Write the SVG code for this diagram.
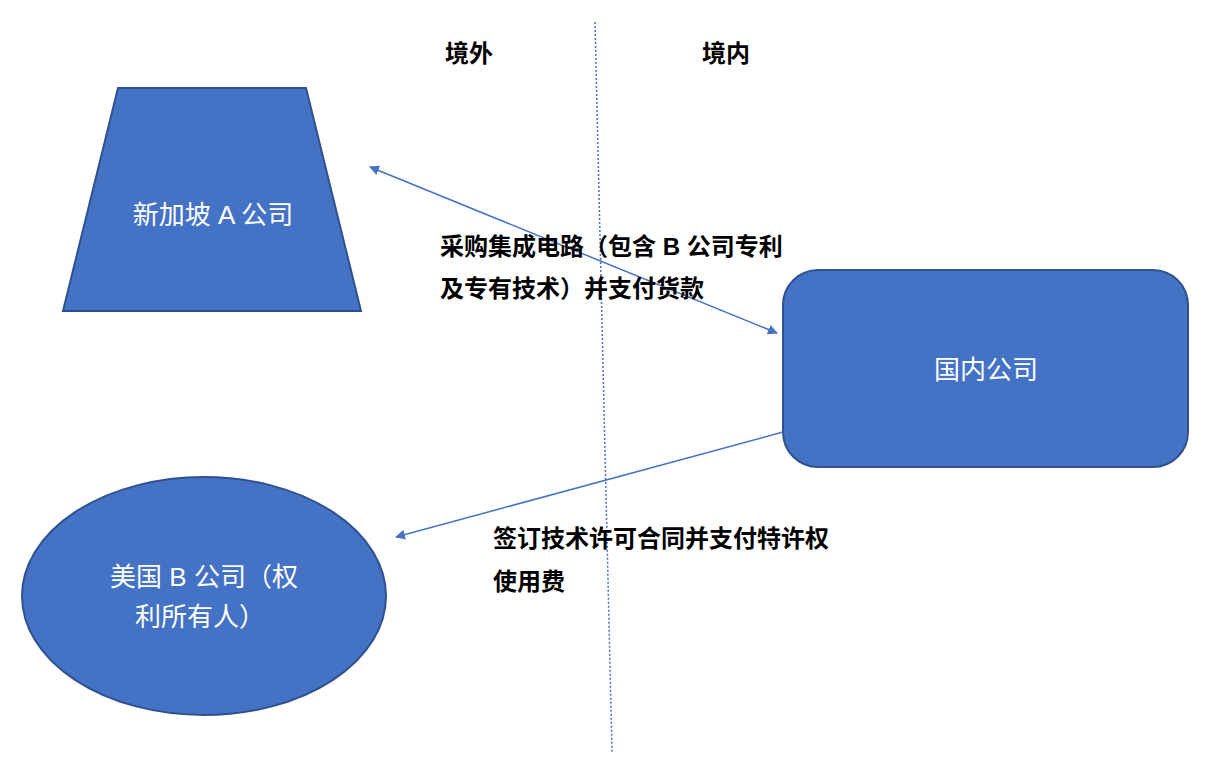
<svg xmlns="http://www.w3.org/2000/svg" width="1218" height="782" viewBox="0 0 1218 782">
<style>
.n{fill:#4472C4;stroke:#2F528F;stroke-width:2}
.w{fill:#fff;font-family:"Liberation Sans","Noto Sans CJK SC",sans-serif;font-size:26px;text-anchor:middle}
.b{fill:#000;font-family:"Liberation Sans","Noto Sans CJK SC",sans-serif;font-size:24px;font-weight:bold}
.c{stroke:#4472C4;stroke-width:1.5;fill:none}
</style>
<defs>
<marker id="a" viewBox="0 0 10 10" refX="9" refY="5" markerWidth="10" markerHeight="10" markerUnits="userSpaceOnUse" orient="auto-start-reverse"><path d="M0,0L10,5L0,10z" fill="#4472C4"/></marker>
</defs>
<rect width="1218" height="782" fill="#fff"/>
<line x1="595" y1="22" x2="612" y2="752" stroke="#4472C4" stroke-width="1.5" stroke-dasharray="2,2"/>
<text class="b" x="445" y="62">境外</text>
<text class="b" x="702" y="62">境内</text>
<g id="sg"><polygon class="n" points="118,88 306,88 361,311 63,311"/><text class="w" x="213" y="224">新加坡 A 公司</text></g>
<g id="cn"><rect class="n" x="783" y="270" width="405" height="197" rx="35"/><text class="w" x="986" y="379">国内公司</text></g>
<g id="us"><ellipse class="n" cx="204" cy="596" rx="182" ry="119"/><text class="w" x="204" y="586">美国 B 公司（权</text><text class="w" x="200" y="626">利所有人）</text></g>
<g id="connectors">
<line class="c" x1="370" y1="167" x2="777" y2="333" marker-start="url(#a)" marker-end="url(#a)"/>
<line class="c" x1="783" y1="432" x2="396" y2="537" marker-end="url(#a)"/>
</g>
<text class="b" x="440" y="255">采购集成电路（包含 B 公司专利</text>
<text class="b" x="440" y="297">及专有技术）并支付货款</text>
<text class="b" x="493" y="547">签订技术许可合同并支付特许权</text>
<text class="b" x="493" y="590">使用费</text>
</svg>
